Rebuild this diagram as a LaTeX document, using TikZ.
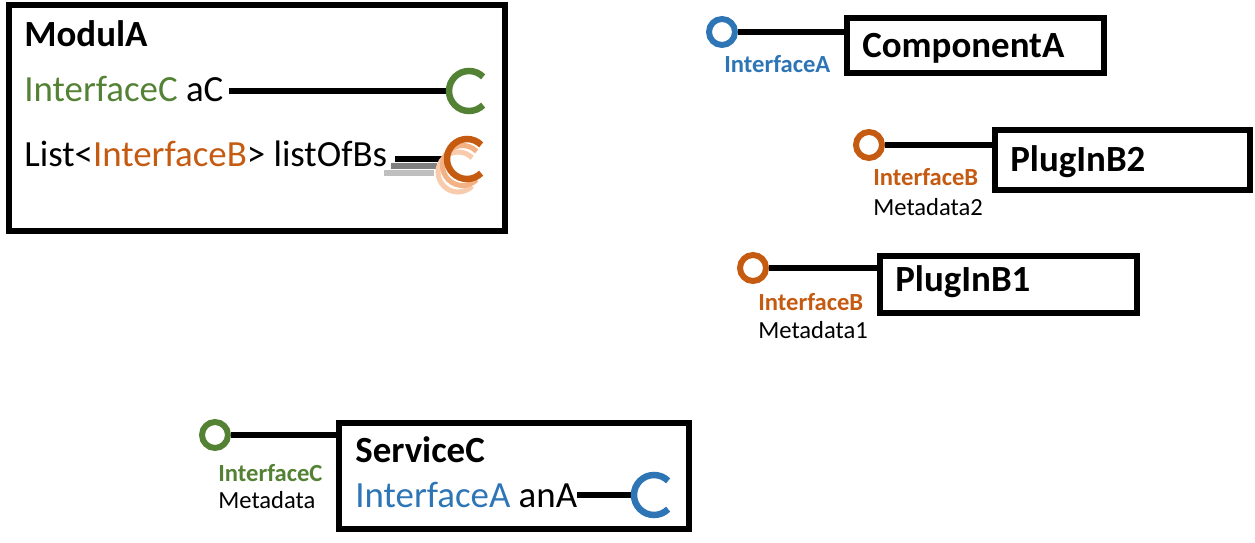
\documentclass[tikz,border=0pt]{standalone}
\usepackage{fontspec}
\setmainfont{Carlito}
\definecolor{ifa}{HTML}{2E75B6}
\definecolor{ifb}{HTML}{C55A11}
\definecolor{ifc}{HTML}{548235}
\definecolor{ifbl}{HTML}{F4B183}
\definecolor{ifbll}{HTML}{F8CBAD}
\begin{document}
\begin{tikzpicture}[x=0.02cm,y=-0.02cm,
    box/.style={draw,line width=3.4pt,inner sep=0pt},
    wire/.style={line width=3.4pt},
    ball/.style={circle,draw,line width=3.4pt,minimum size=0.52cm,inner sep=0pt},
    sock/.style={line width=3.7pt},
    title/.style={anchor=base west,inner sep=0pt,font=\fontsize{21}{25}\selectfont\bfseries},
    member/.style={anchor=base west,inner sep=0pt,font=\fontsize{21}{25}\selectfont},
    iface/.style={anchor=base west,inner sep=0pt,font=\fontsize{14}{17}\selectfont\bfseries},
    meta/.style={anchor=base west,inner sep=0pt,font=\fontsize{14}{17}\selectfont}]
  \useasboundingbox (0,0) rectangle (1255,543);

  % ModulA with its two required interfaces
  \node[box,minimum width=9.93cm,minimum height=4.51cm] (modA) at (257,118) {};
  \node[title] (modAname) at (24,47) {ModulA};
  \node[member] (aC) at (24,102) {\textcolor{ifc}{InterfaceC} aC};
  \node[member] (listBs) at (24,167) {List<\textcolor{ifb}{InterfaceB}> listOfBs};
  \coordinate (sockC) at (469,91);
  \draw[wire] ([xshift=3pt]aC.east |- sockC) -- ([xshift=-0.4cm]sockC);
  \draw[sock,ifc] ([shift={(45:0.4cm)}]sockC) arc[start angle=45,end angle=315,radius=0.4cm];
  \coordinate (sockB) at (467,159);
  \foreach \i/\c/\w in {2/black!25/-2pt,1/black!50/2pt} {
    \draw[wire,\c] ([xshift=\w,yshift=-\i*0.14cm]listBs.east |- sockB) -- ++(1.0cm,0);
  }
  \draw[wire] ([xshift=4.5pt]listBs.east |- sockB) -- ([xshift=-0.36cm]sockB);
  \foreach \i/\c in {2/ifbll,1/ifbl} {
    \draw[line width=2.9pt,\c] ([shift={(-\i*0.09cm,-\i*0.13cm)}]sockB) ++(45:0.4cm)
      arc[start angle=45,end angle=315,radius=0.4cm];
  }
  \draw[sock,ifb] ([shift={(45:0.4cm)}]sockB) arc[start angle=45,end angle=315,radius=0.4cm];

  % ComponentA provides InterfaceA
  \node[box,minimum width=5.14cm,minimum height=1.1cm] (compA) at (975.5,45.5) {};
  \node[title] (compAname) at (862,58) {ComponentA};
  \node[ball,draw=ifa] (ballA) at (722,32) {};
  \draw[wire] (ballA) -- (ballA -| compA.west);
  \node[iface,ifa] (lblA) at (724,73) {InterfaceA};

  % PlugInB2
  \node[box,minimum width=5.1cm,minimum height=1.2cm] (plugB2) at (1122.5,160) {};
  \node[title] (plugB2name) at (1010,172) {PlugInB2};
  \node[ball,draw=ifb] (ballB2) at (869,145) {};
  \draw[wire] (ballB2) -- (ballB2 -| plugB2.west);
  \node[iface,ifb] (lblB2) at (873,186) {InterfaceB};
  \node[meta] (metaB2) at (873,216) {Metadata2};

  % PlugInB1
  \node[box,minimum width=5.14cm,minimum height=1.14cm] (plugB1) at (1008.5,284.5) {};
  \node[title] (plugB1name) at (895,292) {PlugInB1};
  \node[ball,draw=ifb] (ballB1) at (753,268) {};
  \draw[wire] (ballB1) -- (ballB1 -| plugB1.west);
  \node[iface,ifb] (lblB1) at (758,311) {InterfaceB};
  \node[meta] (metaB1) at (758,339) {Metadata1};

  % ServiceC provides InterfaceC, requires InterfaceA
  \node[box,minimum width=7.0cm,minimum height=2.12cm] (servC) at (514,476) {};
  \node[title] (servCname) at (355,463) {ServiceC};
  \node[member] (anA) at (355,508) {\textcolor{ifa}{InterfaceA} anA};
  \coordinate (sockA) at (654,495);
  \draw[wire] (anA.east |- sockA) -- ([xshift=-0.4cm]sockA);
  \draw[sock,ifa] ([shift={(45:0.4cm)}]sockA) arc[start angle=45,end angle=315,radius=0.4cm];
  \node[ball,draw=ifc] (ballC) at (215,435) {};
  \draw[wire] (ballC) -- (ballC -| servC.west);
  \node[iface,ifc] (lblC) at (218,482) {InterfaceC};
  \node[meta] (metaC) at (218,509) {Metadata};
\end{tikzpicture}
\end{document}
